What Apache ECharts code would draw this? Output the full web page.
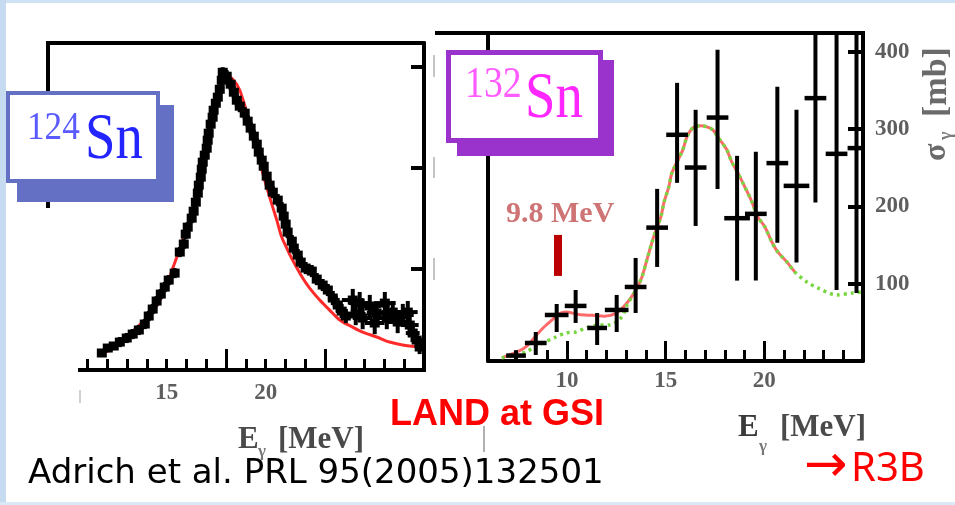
<!DOCTYPE html>
<html><head><meta charset="utf-8">
<script src="https://cdn.jsdelivr.net/npm/echarts@6/dist/echarts.min.js"></script>
<style>html,body{margin:0;padding:0;background:#fff;}#c{width:955px;height:505px;}</style>
</head><body><div id="c"></div>
<script>
// ---------- 124Sn (left panel) ----------
const leftE = [11.72,12.02,12.32,12.63,12.98,13.28,13.59,13.89,14.09,14.29,14.49,14.70,14.90,15.10,15.40,15.66,15.86,15.96,16.06,16.26,16.36,16.47,16.57,16.62,16.72,16.77,16.82,16.92,17.02,17.07,17.12,17.22,17.32,17.37,17.48,17.58,17.68,17.78,17.83,
  18.03,18.23,18.39,18.54,18.69,18.94,19.09,19.24,19.40,19.55,19.65,19.80,19.90,20.05,20.20,20.36,20.61,20.81,20.91,21.01,21.11,21.32,21.42,21.62,21.77,22.02,22.33,22.58,22.88,23.14,23.39,23.64,23.84,24.05,
  24.40,24.75,24.55,24.90,25.26,25.61,25.51,26.02,26.12,26.42,26.67,26.93,27.18,27.28,27.43,27.63,27.78];
const leftSigma = [16.8,21.7,23.7,27.6,31.6,35.5,39.5,45.4,53.3,60.2,68.1,75.0,81.9,88.8,95.7,116.5,124.4,134.2,141.1,150.0,156.9,165.8,174.7,182.6,190.5,198.4,205.3,212.2,219.1,227.0,233.9,242.8,249.7,256.6,263.5,269.5,277.3,286.2,294.1,
  290.2,282.3,274.4,266.5,260.6,253.7,245.8,238.9,231.0,223.1,215.2,207.3,201.3,191.5,182.6,175.7,167.8,159.9,152.0,144.1,136.2,127.3,120.4,113.5,106.6,100.7,97.7,89.8,83.9,79.0,71.1,64.2,58.2,53.3,
  69.1,66.1,55.3,51.3,63.2,56.3,46.4,66.1,51.3,57.2,47.4,54.3,57.2,44.4,36.5,29.6,22.7];
const leftErr = [4,4,4,5,5,5,5,5,5,5,5,5,5,5,5,5,5,5,5,5,5,5,5,5,5,5,5,5,5,5,5,5,5,5,5,5,5,5,5,
  6,6,6,6,6,6,6,6,6,6,6,6,6,6,6,6,6,6,6,6,6,6,6,6,6,6,6,6,6,6,7,7,7,7,
  11,11,11,11,11,11,11,11,11,11,11,11,11,11,9,8,7];
const leftDE = [0,0,0,0,0,0,0,0,0,0,0,0,0,0,0,0,0,0,0,0,0,0,0,0,0,0,0,0,0,0,0,0,0,0,0,0,0,0,0,
  0,0,0,0,0,0,0,0,0,0,0,0,0,0,0,0,0,0,0,0,0,0,0,0,0,0,0,0,0,0,0.25,0.25,0.3,0.3,
  0.55,0.55,0.5,0.5,0.55,0.5,0.5,0.55,0.5,0.55,0.5,0.55,0.5,0.45,0.35,0.3,0.2];
const leftFitE = [11.55,12.2,13.2,14.14,14.75,15.40,15.81,16.26,16.41,17.02,17.17,17.68,17.88,18.3,18.69,19.34,19.85,20.20,20.56,20.81,21.11,21.36,21.87,22.22,22.73,23.23,23.74,24.39,24.90,25.61,26.26,26.92,27.78];
const leftFitSigma = [17,20,37,54.3,72.1,105.6,128.3,155.0,167.8,224.1,241.9,278.4,293.2,288,276.4,234.0,194.5,170.8,148.1,131.3,118.5,108.6,90.8,80.9,69.1,59.2,49.4,42.4,37.5,32.6,27.6,24.7,22.7];
const leftTicksMinor = [11,12,13,14,15,16,17,19,20,21,22,24,25,26,27,28];
const leftTicksMajor = [18,23];
const leftTickLabels = [15,20];
const leftYTicks = [100,200,300];

// ---------- 132Sn (right panel) ----------
const rightE     = [7.42,8.42,9.48,10.44,11.53,12.52,13.48,14.57,15.58,16.52,17.63,18.62,19.57,20.66,21.63,22.59,23.66,24.67];
const rightSigma = [7,23.3,59.5,71.2,42.7,66.0,95.7,172.4,292.4,250.1,314.7,184.6,190.2,255.8,226.4,339.8,267.8,275.2];
const rightLo    = [0,7.8,37.5,49.2,20.7,37.5,62.1,121.6,230.3,174.6,222.5,103.9,103.9,152.7,127.2,204.8,91.8,88.0];
const rightHi    = [14,37.5,73.7,91.8,62.1,85.4,133.2,222.5,359.6,324.7,402.3,265.2,270.4,354.5,324.7,480,480,480];
const rightDE    = [0.5,0.55,0.6,0.55,0.5,0.6,0.55,0.55,0.55,0.55,0.55,0.65,0.55,0.55,0.65,0.55,0.55,0.45];
const redFitE = [6.7,7.5,8.0,8.4,8.8,9.24,9.6,9.95,10.6,11.3,11.9,12.5,13.04,13.49,13.80,14.05,14.30,14.51,14.76,14.91,15.16,15.32,15.87,16.08,16.38,16.73,17.09,17.39,17.75,18.10,18.35,18.66,19.01,19.37,19.67,20.03,20.38,20.68,21.14,21.54];
const redFitSigma = [4,12,20,32,43,53,61,63.4,60,59,58,62,75.0,91.8,108.7,130.7,152.7,169.5,186.3,204.4,225.1,243.2,273.0,289.8,301.4,304.0,302.7,298.8,285.9,273.0,257.4,243.2,225.1,205.7,186.3,173.3,153.9,141.0,128.1,115.1];
const greenFitE = [6.7,7.5,7.92,8.5,9.44,9.95,10.46,10.96,11.62,12.13,12.78,13.04,13.49,13.80,14.05,14.30,14.51,14.76,14.91,15.16,15.32,15.87,16.08,16.38,16.73,17.09,17.39,17.75,18.10,18.35,18.66,19.01,19.37,19.67,20.03,20.38,20.68,21.14,21.54,22.15,22.71,23.67,24.48,24.99];
const greenFitSigma = [4,9,11.6,20,31,36.2,37.5,42.7,46.6,46.6,56.9,72,91.8,108.7,130.7,152.7,169.5,186.3,204.4,225.1,243.2,273.0,289.8,301.4,304.0,302.7,298.8,285.9,273.0,257.4,243.2,225.1,205.7,186.3,173.3,153.9,141.0,128.1,115.1,102.2,94.4,85.4,88.0,89.3];
const pygmyE = 9.55, pygmyLo = 110, pygmyHi = 163;
const rightTicksMinor = [9,11,12,13,14,16,17,18,19,21,22,23,24];
const rightTicksMajor = [10,15,20];
const rightYTicks = [100,200,300,400];

const serif = '"Liberation Serif", "DejaVu Serif", serif';
const chart = echarts.init(document.getElementById('c'), null, {renderer:'canvas'});
const none = {show:false};
const lblStyle = {fontFamily: serif, fontWeight:'bold', fontSize:23, color:'#5e5e5e'};

function txt(x, y, text, font, fill, extra) {
  return Object.assign({type:'text', x:x, y:y, z:100,
    style:{text:text, font:font, fill:fill, align:'left', verticalAlign:'middle', textAlign:'left', textVerticalAlign:'middle'}}, extra || {});
}
function ln(x1,y1,x2,y2,color,w){ return {type:'line', z:50, shape:{x1,y1,x2,y2}, style:{stroke:color, lineWidth:w}}; }

const option = {
  animation:false,
  backgroundColor:'#ffffff',
  grid:[{left:48, top:43, width:376, height:327}, {left:488, top:33, width:375, height:328}],
  xAxis:[
    {gridIndex:0, type:'value', position:'bottom', min:9, max:28, axisLine:none, splitLine:none,
      axisTick:{show:true, inside:true, length:11, customValues:leftTicksMinor, lineStyle:{color:'#000', width:3}},
      axisLabel:Object.assign({show:true, margin:12, customValues:leftTickLabels}, lblStyle)},
    {gridIndex:0, type:'value', position:'bottom', min:9, max:28, axisLine:none, splitLine:none, axisLabel:none,
      axisTick:{show:true, inside:true, length:21, customValues:leftTicksMajor, lineStyle:{color:'#000', width:3}}},
    {gridIndex:0, type:'value', position:'top', min:9, max:28, splitLine:none, axisLabel:none, axisTick:none,
      axisLine:{show:true, lineStyle:{color:'#000', width:4}}},
    {gridIndex:1, type:'value', position:'bottom', min:6, max:25, splitLine:none,
      axisLine:{show:true, lineStyle:{color:'#000', width:4}},
      axisTick:{show:true, inside:true, length:11, customValues:rightTicksMinor, lineStyle:{color:'#000', width:3}},
      axisLabel:Object.assign({show:true, margin:9, customValues:rightTicksMajor}, lblStyle)},
    {gridIndex:1, type:'value', position:'bottom', min:6, max:25, axisLine:none, splitLine:none, axisLabel:none,
      axisTick:{show:true, inside:true, length:20, customValues:rightTicksMajor, lineStyle:{color:'#000', width:3}}}
  ],
  yAxis:[
    {gridIndex:0, type:'value', position:'right', min:0, max:323, splitLine:none, axisLabel:none,
      axisLine:{show:true, lineStyle:{color:'#000', width:4}},
      axisTick:{show:true, inside:true, length:13, customValues:leftYTicks, lineStyle:{color:'#000', width:4}}},
    {gridIndex:1, type:'value', position:'right', min:0, max:424, splitLine:none,
      axisLine:{show:true, lineStyle:{color:'#000', width:4}},
      axisTick:{show:true, inside:true, length:15, customValues:rightYTicks, lineStyle:{color:'#000', width:4}},
      axisLabel:Object.assign({show:true, margin:12, customValues:rightYTicks}, lblStyle)},
    {gridIndex:1, type:'value', position:'left', min:0, max:424, splitLine:none, axisLabel:none, axisTick:none,
      axisLine:{show:true, lineStyle:{color:'#000', width:4}}}
  ],
  series:[
    {type:'line', xAxisIndex:0, yAxisIndex:0, z:2, smooth:0.3, symbol:'none',
      lineStyle:{color:'#ff2a2a', width:3}, data:leftFitE.map((e,i)=>[e,leftFitSigma[i]])},
    {type:'custom', xAxisIndex:0, yAxisIndex:0, z:3, clip:true,
      data:leftE.map((e,i)=>[e,leftSigma[i],leftErr[i],leftDE[i]]),
      renderItem:function(params, api){
        const x = api.value(0), y = api.value(1), er = api.value(2), de = api.value(3);
        const c = api.coord([x,y]), t = api.coord([x,y+er]), b = api.coord([x,y-er]);
        const ch = [
          {type:'rect', shape:{x:c[0]-5, y:c[1]-4.5, width:10, height:9}, style:{fill:'#000'}},
          {type:'line', shape:{x1:c[0], y1:t[1], x2:c[0], y2:b[1]}, style:{stroke:'#000', lineWidth:4}}
        ];
        if (de > 0) {
          const l = api.coord([x-de,y]), r = api.coord([x+de,y]);
          ch.push({type:'line', shape:{x1:l[0], y1:c[1], x2:r[0], y2:c[1]}, style:{stroke:'#000', lineWidth:4}});
        }
        return {type:'group', children:ch};
      }},
    {type:'line', xAxisIndex:3, yAxisIndex:1, z:2, smooth:0.3, symbol:'none',
      lineStyle:{color:'#ff6a6a', width:3}, data:redFitE.map((e,i)=>[e,redFitSigma[i]]),
      markLine:{silent:true, symbol:['none','none'], label:{show:false},
        lineStyle:{color:'#bb0000', width:8, type:'solid'},
        data:[[{coord:[pygmyE,pygmyLo]},{coord:[pygmyE,pygmyHi]}]]}},
    {type:'line', xAxisIndex:3, yAxisIndex:1, z:3, smooth:0.3, symbol:'none',
      lineStyle:{color:'#78d640', width:3.5, type:[3,4]}, data:greenFitE.map((e,i)=>[e,greenFitSigma[i]])},
    {type:'custom', xAxisIndex:3, yAxisIndex:1, z:4, clip:true,
      data:rightE.map((e,i)=>[e,rightSigma[i],rightLo[i],rightHi[i],rightDE[i]]),
      renderItem:function(params, api){
        const x = api.value(0), y = api.value(1), de = api.value(4);
        const c = api.coord([x,y]), lo = api.coord([x,api.value(2)]), hi = api.coord([x,api.value(3)]);
        const l = api.coord([x-de,y]), r = api.coord([x+de,y]);
        return {type:'group', children:[
          {type:'line', shape:{x1:c[0], y1:lo[1], x2:c[0], y2:hi[1]}, style:{stroke:'#000', lineWidth:4}},
          {type:'line', shape:{x1:l[0], y1:c[1], x2:r[0], y2:c[1]}, style:{stroke:'#000', lineWidth:4.5}}
        ]};
      }}
  ],
  graphic:{elements:[
    {type:'rect', z:0, shape:{x:0,y:0,width:955,height:3}, style:{fill:'#cfe1f4'}},
    {type:'rect', z:0, shape:{x:0,y:0,width:6,height:505}, style:{fill:'#c6dbf0'}},
    {type:'rect', z:0, shape:{x:0,y:502,width:955,height:3}, style:{fill:'#dbe8f6'}},
    ln(48,41,48,208,'#000',4),
    ln(78,370,426,370,'#000',4),
    ln(435,33,865,33,'#000',4),
    ln(434,55,434,77,'#c4c4c4',2), ln(434,157,434,178,'#c4c4c4',2), ln(434,258,434,280,'#c4c4c4',2),
    ln(80,390,80,403,'#d0d0d0',2),
    ln(484,426,484,452,'#b0b0b0',2),
    // 124Sn box
    {type:'rect', z:90, shape:{x:17,y:105,width:157,height:97}, style:{fill:'#6470c4'}},
    {type:'rect', z:91, shape:{x:8,y:93,width:150,height:88}, style:{fill:'#fff', stroke:'#6470c4', lineWidth:4}},
    txt(27,128,'124','normal 40px '+serif,'#5a5aff',{scaleX:0.88}),
    txt(85,141,'Sn','normal 66px '+serif,'#2424ff',{scaleX:0.83}),
    // 132Sn box
    {type:'rect', z:90, shape:{x:457,y:60,width:157,height:96}, style:{fill:'#9933cc'}},
    {type:'rect', z:91, shape:{x:448.5,y:52.5,width:152,height:88}, style:{fill:'#fff', stroke:'#9933cc', lineWidth:5}},
    txt(465,85,'132','normal 44px '+serif,'#ff5cff',{scaleX:0.86}),
    txt(525,100,'Sn','normal 66px '+serif,'#ff26ff',{scaleX:0.83}),
    // 9.8 MeV
    txt(506,214,'9.8 MeV','bold 30px '+serif,'#cf7474'),
    // axis names
    txt(238,440,'E','bold 31px '+serif,'#4a4a4a'),
    txt(258,452,'γ','bold 17px '+serif,'#777'),
    txt(278,440,'[MeV]','bold 31px '+serif,'#4a4a4a'),
    txt(738,428,'E','bold 31px '+serif,'#3a3a3a'),
    txt(759,447,'γ','bold 17px '+serif,'#777'),
    txt(780,428,'[MeV]','bold 31px '+serif,'#4a4a4a'),
    {type:'group', x:937, y:161, rotation:Math.PI/2, z:100, children:[
      txt(0,0,'σ','bold 32px '+serif,'#6a6a6a'),
      txt(21,9,'γ','bold 18px '+serif,'#7a7a7a'),
      txt(44,0,'[mb]','bold 34px '+serif,'#6a6a6a')
    ]},
    // texts
    txt(390,415,'LAND at GSI','bold 36px "Liberation Sans", Arial, sans-serif','#ff0000'),
    txt(28,474,'Adrich et al. PRL 95(2005)132501','normal 34px "DejaVu Sans", sans-serif','#000'),
    txt(804,467,'→','normal 52px "DejaVu Sans", sans-serif','#ff0000'),
    txt(851,470,'R3B','normal 40px "Noto Sans", "Open Sans", sans-serif','#ff0000')
  ]}
};
chart.setOption(option);
</script></body></html>
